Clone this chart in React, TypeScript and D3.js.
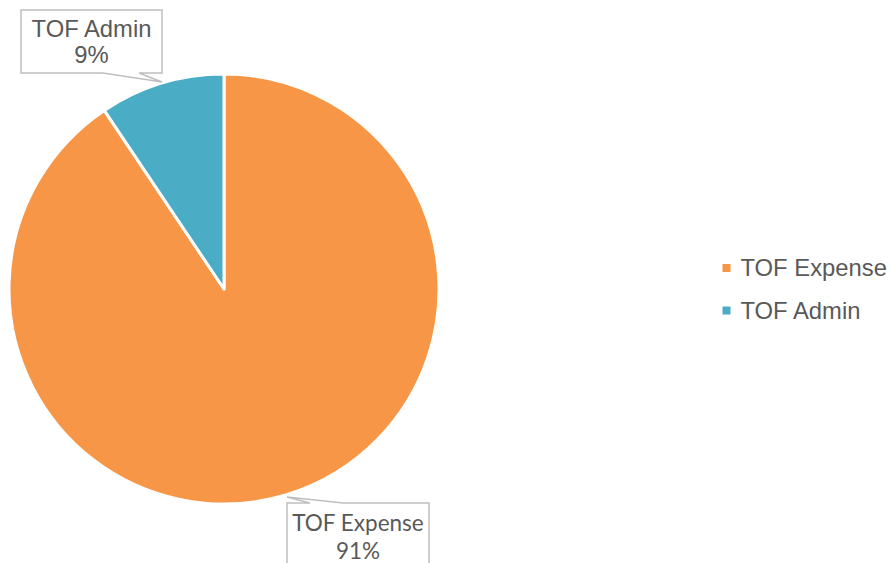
import React from "react";
import * as d3 from "d3";

const categories = ["TOF Expense", "TOF Admin"];
const values = [90.6, 9.4];
const colors = ["#F79646", "#4BACC6"];

const W = 895;
const H = 563;
const cx = 224;
const cy = 289;
const R = 215;

const ARIAL = "Liberation Sans";
const CALIBRI = "Lato";

export default function App() {
  const total = d3.sum(values);
  const pie = d3.pie<number>().sort(null).startAngle(0).endAngle(2 * Math.PI);
  const arcs = pie(values);
  const arc = d3.arc<d3.PieArcDatum<number>>().innerRadius(0).outerRadius(R);
  const pct = d3.format(".0%");
  const txt = "#595959";
  const boxStroke = "#BFBFBF";

  return (
    <svg width={W} height={H} style={{ position: "absolute", left: 0, top: 0, background: "#fff" }}>
      <g transform={`translate(${cx},${cy})`}>
        {arcs.map((a, i) => (
          <path key={i} d={arc(a) || ""} fill={colors[i]} stroke="#fff" strokeWidth={3} strokeLinejoin="round" />
        ))}
      </g>

      {/* TOF Admin callout */}
      <path
        d="M21,10 L162,10 L162,73 L139,73 L162,82 L103,73 L21,73 Z"
        fill="#fff"
        stroke={boxStroke}
        strokeWidth={1.5}
      />
      <text x={91.5} y={37} textAnchor="middle" style={{ fontFamily: ARIAL, fontSize: 23.8 }} fill={txt}>
        {categories[1]}
      </text>
      <text x={91.5} y={63} textAnchor="middle" style={{ fontFamily: ARIAL, fontSize: 23.8 }} fill={txt}>
        {pct(values[1] / total)}
      </text>

      {/* TOF Expense callout */}
      <path
        d="M287,600 L287,503 L310,503 L287,497 L343,503 L429,503 L429,600"
        fill="#fff"
        stroke={boxStroke}
        strokeWidth={1.5}
      />
      <text x={358} y={531} textAnchor="middle" style={{ fontFamily: CALIBRI, fontSize: 22.5 }} fill={txt}>
        {categories[0]}
      </text>
      <text x={358} y={559} textAnchor="middle" style={{ fontFamily: CALIBRI, fontSize: 22.5 }} fill={txt}>
        {pct(values[0] / total)}
      </text>

      {/* Legend */}
      {categories.map((c, i) => (
        <g key={c} transform={`translate(722.5,${264 + i * 42.5})`}>
          <rect x={0} y={0} width={8} height={8} fill={colors[i]} />
          <text x={18} y={12} style={{ fontFamily: ARIAL, fontSize: 23.8 }} fill={txt}>
            {c}
          </text>
        </g>
      ))}
    </svg>
  );
}
